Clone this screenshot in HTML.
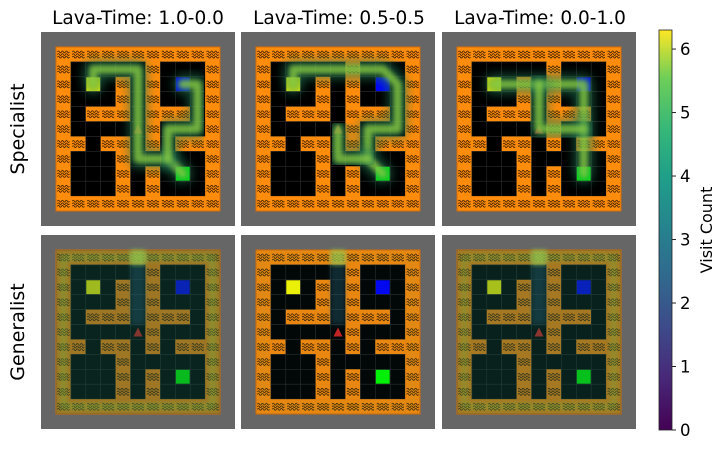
<!DOCTYPE html>
<html><head><meta charset="utf-8"><style>
html,body{margin:0;padding:0;background:#fff;}
svg{display:block;font-family:"DejaVu Sans","Liberation Sans",sans-serif;}
</style></head><body>
<svg id="fig" width="723" height="450" viewBox="0 0 723 450" xmlns="http://www.w3.org/2000/svg">
<defs>
<linearGradient id="viridis" x1="0" y1="1" x2="0" y2="0">
<stop offset="0" stop-color="#440154"/><stop offset="0.13" stop-color="#482878"/><stop offset="0.25" stop-color="#3e4989"/><stop offset="0.38" stop-color="#31688e"/><stop offset="0.5" stop-color="#26828e"/><stop offset="0.63" stop-color="#1f9e89"/><stop offset="0.75" stop-color="#35b779"/><stop offset="0.88" stop-color="#6ece58"/><stop offset="1" stop-color="#fde725"/>
</linearGradient>
<filter id="blur" x="-20%" y="-20%" width="140%" height="140%"><feGaussianBlur stdDeviation="2.5"/></filter>
<filter id="blur2" x="-20%" y="-20%" width="140%" height="140%"><feGaussianBlur stdDeviation="5"/></filter>
</defs>
<g id="panels"></g>
<g id="titles">
<text x="138" y="24" font-size="18.5" text-anchor="middle">Lava-Time: 1.0-0.0</text>
<text x="339" y="24" font-size="18.5" text-anchor="middle">Lava-Time: 0.5-0.5</text>
<text x="540" y="24" font-size="18.5" text-anchor="middle">Lava-Time: 0.0-1.0</text>
<text transform="translate(24,129) rotate(-90)" font-size="19" text-anchor="middle">Specialist</text>
<text transform="translate(24,332) rotate(-90)" font-size="19" text-anchor="middle">Generalist</text>
</g>
<g id="colorbar">
<rect x="659" y="30" width="13" height="400" fill="url(#viridis)" stroke="#222" stroke-width="0.8"/>
<text transform="translate(712,230) rotate(-90)" font-size="16" text-anchor="middle">Visit Count</text>
</g>
</svg>
<script>
const cbTicks = [0, 1, 2, 3, 4, 5, 6];
const cbMax = 6.3;
const panelTitles = ["Lava-Time: 1.0-0.0", "Lava-Time: 0.5-0.5", "Lava-Time: 0.0-1.0"];
const mazeRows = [
 "LLLLLLLLLLL",
 "L.....L...L",
 "L.Y.L.L.B.L",
 "L...L.L...L",
 "L.LLL.LLL.L",
 "L....AL...L",
 "LL.LL.L.LLL",
 "L...L.....L",
 "L...L.L.G.L",
 "L...L.L...L",
 "LLLLLLLLLLL"];
const specPaths = [
 [[[2,2],[2,1],[5,1],[5,7],[7,7],[8,8]], [[7,7],[7,5],[9,5],[9,2],[8,2]]],
 [[[2,2],[2,1],[8,1],[9,2],[9,5],[7,5],[7,7],[8,8]], [[5,5],[5,7],[7,7]]],
 [[[2,2],[8,2],[8,8]], [[5,2],[5,5],[8,5]]]
];
const genStrength = [0.55, 0.12, 0.5];

const NS = "http://www.w3.org/2000/svg";
const px = [41, 241, 442], py = [32, 235], S = 194, C = S / 13;
const cbTop = 30, cbBot = 430;
function yCb(v){ return cbBot - (v / cbMax) * (cbBot - cbTop); }
function mk(tag, attrs, parent){ const e = document.createElementNS(NS, tag); for (const k in attrs) e.setAttribute(k, attrs[k]); parent.appendChild(e); return e; }

const cb = document.getElementById('colorbar');
cbTicks.forEach(t => {
  const y = yCb(t);
  const l = mk('line', {x1:672, x2:676, y1:y, y2:y, stroke:'#222', 'stroke-width':1}, cb);
  
  
  const tx = mk('text', {x:680, y:y+6, 'font-size':16.5}, cb);
  tx.textContent = t;
  
  
});

const root = document.getElementById('panels');
function wave(g, x, y){
  for (let i = 0; i < 3; i++) {
    const yy = y + 5 + i * 2.6;
    let d = `M${x+1.5},${yy}`;
    for (let k = 0; k < 3; k++) { d += ` q${1},-1.8 ${2},0 q${1},1.8 ${2},0`; }
    mk('path', {d, fill:'none', stroke:'#3a1d00', 'stroke-width':0.8}, g);
  }
}
for (let r = 0; r < 2; r++) for (let c = 0; c < 3; c++) {
  const X = px[c], Y = py[r];
  const g = mk('g', {}, root);
  
  
  mk('rect', {x:X, y:Y, width:S, height:S, fill:'#666'}, g);
  const ox = X + C, oy = Y + C;
  mazeRows.forEach((row, i) => {
    for (let j = 0; j < 11; j++) {
      const ch = row[j], cx = ox + j*C, cy = oy + i*C;
      if (ch === 'L') { mk('rect', {x:cx, y:cy, width:C+0.2, height:C+0.2, fill:'#ff8c0a'}, g); wave(g, cx, cy); }
      else {
        mk('rect', {x:cx, y:cy, width:C, height:C, fill:'#000', stroke:'#2b2b2b', 'stroke-width':0.6}, g);
        if (ch === 'Y') mk('rect', {x:cx+0.5, y:cy+0.5, width:C-1, height:C-1, fill:'#ffff00'}, g);
        if (ch === 'B') mk('rect', {x:cx+0.5, y:cy+0.5, width:C-1, height:C-1, fill:'#0000ff'}, g);
        if (ch === 'G') mk('rect', {x:cx+0.5, y:cy+0.5, width:C-1, height:C-1, fill:'#00ff00'}, g);
        if (ch === 'A') mk('path', {d:`M${cx+C/2},${cy+3} L${cx+C-3},${cy+C-3} L${cx+3},${cy+C-3}Z`, fill:'#d02020'}, g);
      }
    }
  });
  mk('rect', {x:ox, y:oy, width:11*C, height:11*C, fill:'none', stroke:'#c86a10', 'stroke-width':1}, g);
  const cen = p => [ox + (p[0]+0.5)*C, oy + (p[1]+0.5)*C];
  if (r === 0) {
    specPaths[c].forEach((path, k) => {
      const pts = path.map(cen).map(p => p.join(',')).join(' ');
      mk('polyline', {points:pts, fill:'none', stroke:'#1f7a55', 'stroke-width':C*1.3, 'stroke-opacity':0.6, 'stroke-linejoin':'round', 'stroke-linecap':'round', filter:'url(#blur2)'}, g);
      mk('polyline', {points:pts, fill:'none', stroke:'#8fd040', 'stroke-width':C*0.55, 'stroke-opacity':0.75, 'stroke-linejoin':'round', 'stroke-linecap':'round', filter:'url(#blur)'}, g);
    });
  } else {
    const s = genStrength[c];
    mk('rect', {x:ox, y:oy, width:11*C, height:11*C, fill:'#15584a', 'fill-opacity':s*0.75}, g);
    mk('rect', {x:ox+C/2, y:oy+C/2, width:10*C, height:10*C, fill:'none', stroke:'#6fb040', 'stroke-width':C*0.5, 'stroke-opacity':s*0.7, filter:'url(#blur)'}, g);
    mk('rect', {x:ox+5*C, y:oy, width:C, height:5*C, fill:'#2a6a80', 'fill-opacity':0.35, filter:'url(#blur)'}, g);
    mk('rect', {x:ox+5*C, y:oy, width:C, height:C, fill:'#b0e040', 'fill-opacity':0.6, filter:'url(#blur)'}, g);
  }
}
</script>
</body></html>
